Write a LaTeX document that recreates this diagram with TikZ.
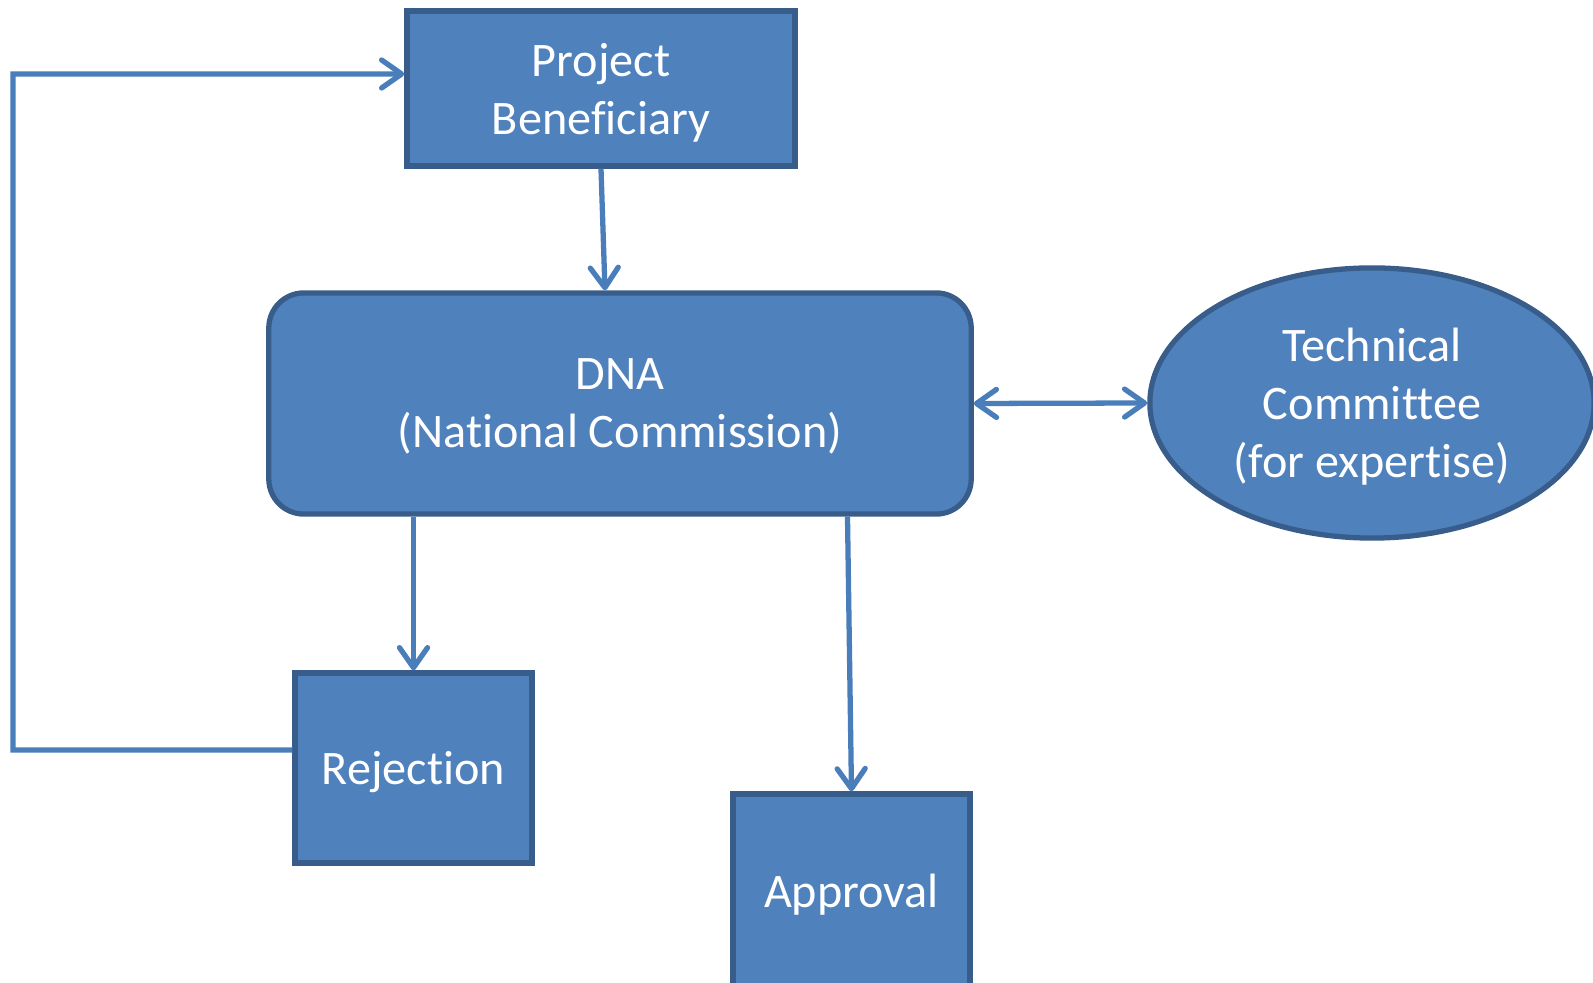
\documentclass[tikz,border=0pt]{standalone}
\usepackage{fontspec}
\setmainfont{Carlito}[Ligatures=NoCommon]
\usetikzlibrary{positioning, arrows.meta}
\usetikzlibrary{shapes.geometric}
\definecolor{boxblue}{HTML}{4F81BD}
\definecolor{boxedge}{HTML}{385D8A}
\definecolor{linkblue}{HTML}{4A7EBB}
\tikzset{
    barb/.tip={Straight Barb[length=2mm,width=2.8mm,round]},
    block/.style={rectangle, draw=boxedge, fill=boxblue, line width=1.5pt, text=white,
      align=center, inner sep=0pt, text depth=0pt, font=\fontsize{13.7}{16.5}\selectfont},
    roundblock/.style={block, rounded corners=0.35cm},
    bubble/.style={block, ellipse},
    link/.style={draw=linkblue, line width=1.5pt, -barb},
  }

\begin{document}
\begin{tikzpicture}[x=0.01cm, y=-0.01cm]
	\useasboundingbox (0,0) rectangle (1593,983);

	% boxes
	\node[block, minimum width=3.88cm, minimum height=1.55cm] (pb) at (601,88.5) {Project\\Beneficiary};
	\node[roundblock, minimum width=7.02cm, minimum height=2.21cm] (dna) at (620,403.5) {DNA\\(National Commission)};
	\node[bubble, minimum width=4.44cm, minimum height=2.70cm] (tc) at (1372,403) {Technical\\Committee\\(for expertise)};
	\node[block, minimum width=2.37cm, minimum height=1.90cm] (rej) at (413.5,768) {Rejection};
	\node[block, minimum width=2.37cm, minimum height=1.94cm] (app) at (851.5,891) {Approval};

	% connectors
	\draw[link] (pb.south) -- ([xshift=0.4mm]pb.south |- dna.north);
	\draw[link] (rej.north |- dna.south) -- (rej.north);
	\draw[link] ([xshift=-0.4mm]app.north |- dna.south) -- (app.north);
	\draw[link, barb-barb] (dna.east) -- (tc.west);

	% back to the beneficiary
	\coordinate (loop low) at (13,750);
	\coordinate (loop high) at (13,74);
	\draw[link] ([yshift=1.8mm]rej.west) -- (loop low) -- (loop high) -- (loop high -| pb.west);
\end{tikzpicture}
\end{document}
